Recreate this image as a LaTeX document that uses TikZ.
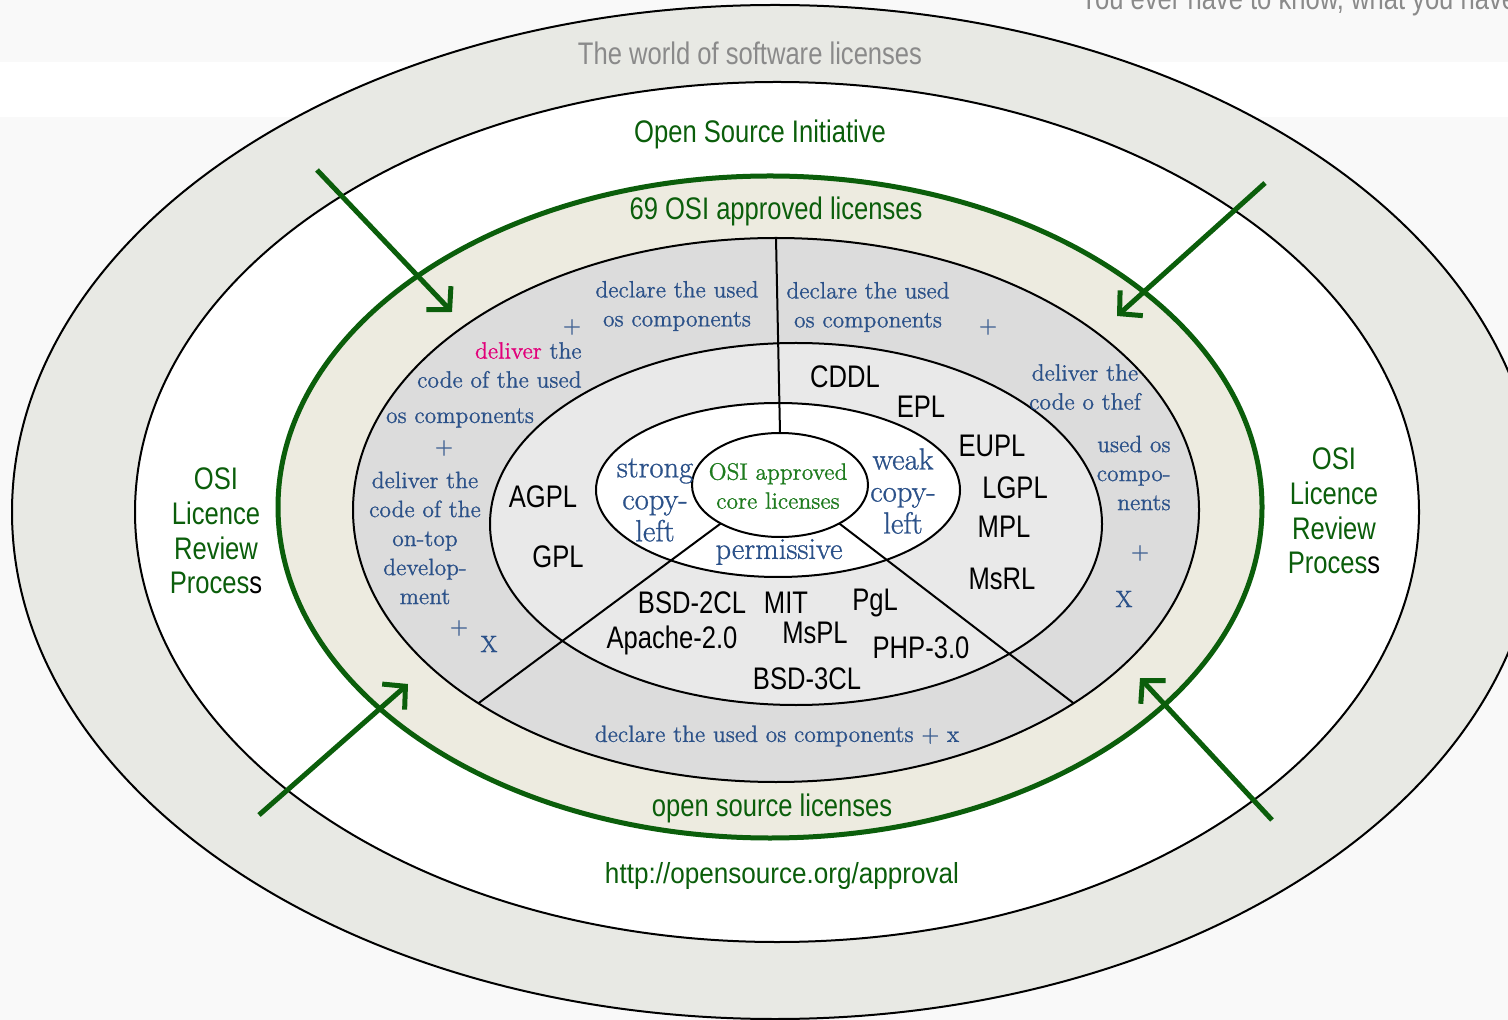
\documentclass[tikz,border=0pt]{standalone}
\usepackage{fontspec}
\usepackage{xcolor}
\usepackage{tikz}
\usetikzlibrary{shapes,shapes.geometric}
\usetikzlibrary{calc,arrows.meta,positioning}
\newfontfamily\condsans[FakeStretch=0.82]{Liberation Sans}
\newfontfamily\urlsans[FakeStretch=0.9]{Liberation Sans}
\newfontfamily\heavyserif[FakeBold=0.9]{Latin Modern Roman}
\definecolor{osigreen}{HTML}{0B5E0B}
\definecolor{coregreen}{HTML}{1E7B1E}
\definecolor{txtblue}{HTML}{2B5189}
\definecolor{tmagenta}{HTML}{E2007A}
\definecolor{worldband}{HTML}{E8E9E4}
\definecolor{pagebg}{HTML}{F9F9F9}
\definecolor{beige}{HTML}{EDEBE0}
\definecolor{ringgrey}{HTML}{DCDCDC}
\definecolor{litegrey}{HTML}{E9E9E9}
\definecolor{hdrgrey}{HTML}{8A8A8A}
\tikzset{
  ring/.style={ellipse, draw=black, line width=1pt, inner sep=0pt, outer sep=0pt},
  head/.style={font={\condsans\fontsize{15.6}{17.3}\selectfont}, text=osigreen, inner sep=0pt, align=center},
  lic/.style={font={\condsans\fontsize{15.6}{17}\selectfont}, text=black, inner sep=0pt},
  bltxt/.style={font={\heavyserif\fontsize{11.8}{14.5}\selectfont}, text=txtblue, inner sep=0pt, align=center},
  cat/.style={font={\heavyserif\fontsize{15.3}{16}\selectfont}, text=txtblue, inner sep=0pt, align=center},
  pointer/.style={draw=osigreen, line width=2.5pt, -{Straight Barb[length=8pt,width=17pt]}}
}
\begin{document}
\begin{tikzpicture}[x=0.5pt, y=-0.5pt]
  \useasboundingbox (0,0) rectangle (1508,1020);
  \clip (0,0) rectangle (1508,1020);
  \fill[pagebg] (0,0) rectangle (1508,1020);
  \fill[white] (0,62) rectangle (1508,117);
  \node[head, text=hdrgrey, anchor=base west] (hdr) at (1080,10) {You ever have to know, what you have to};

  \node[ring, fill=worldband, minimum width=763pt, minimum height=507pt] (world) at (775,512) {};
  \node[ring, fill=white, minimum width=642pt, minimum height=430pt] (osi) at (777,512) {};
  \node[ellipse, draw=osigreen, line width=2.5pt, fill=beige, inner sep=0pt, outer sep=0pt,
        minimum width=492pt, minimum height=331pt] (oss) at (770,507) {};
  \node[ring, fill=ringgrey, minimum width=423pt, minimum height=272pt] (duty) at (776,510) {};
  \node[ring, fill=litegrey, minimum width=306pt, minimum height=181pt] (lics) at (796,524) {};
  \node[ring, fill=white, minimum width=182pt, minimum height=87pt] (kinds) at (778,490) {};
  \node[ring, fill=white, minimum width=88pt, minimum height=52pt] (core) at (780,485) {};
  \draw[line width=1pt] (core.north) -- (duty.north);
  \draw[line width=1pt] (core.213) -- (duty.213);
  \draw[line width=1pt] (core.-33) -- (duty.-33);

  \node[head, text=hdrgrey] (worldtxt) at (750,53) {The world of software licenses};
  \node[head] (ositxt) at (760,134) {Open Source Initiative};
  \node[head] (apprtxt) at (776,211) {69 OSI approved licenses};
  \node[head] (osltxt) at (772,808) {open source licenses};
  \node[head, font={\urlsans\fontsize{14.5}{16}\selectfont}] (url) at (782,876) {http://opensource.org/approval};
  \node[head] (reviewL) at (216,531) {OSI\\Licence\\Review\\Proces\textcolor{black}{s}};
  \node[head] (reviewR) at (1334,511) {OSI\\Licence\\Review\\Proces\textcolor{black}{s}};

  \node[bltxt] (declL) at (677,306) {declare the used\\os components};
  \node[bltxt] (declR) at (868,307) {declare the used\\os components};
  \node[bltxt] (plusA) at (572,327) {+};
  \node[bltxt] (plusB) at (988,327) {+};
  \node[bltxt, align=right, anchor=east] (deliverL) at (582,365) {\textcolor{tmagenta}{deliver} the\\code of the used};
  \node[bltxt] (osL) at (460,418) {os components};
  \node[bltxt] (plusC) at (444,448) {+};
  \node[bltxt] (ontop) at (425,538) {deliver the\\code of the\\on-top\\develop-\\ment};
  \node[bltxt] (plusD) at (459,628) {+};
  \node[bltxt] (xL) at (489,644) {X};
  \node[bltxt] (deliverR) at (1085,387) {deliver the\\code o thef};
  \node[bltxt, align=right, anchor=east] (usedR) at (1171,473) {used os\\compo-\\nents};
  \node[bltxt] (plusE) at (1140,553) {+};
  \node[bltxt] (xR) at (1124,599) {X};
  \node[bltxt] (declB) at (777,736) {declare the used os components + x};

  \node[cat] (strong) at (655,500) {strong\\copy-\\left};
  \node[cat] (weak) at (903,491) {weak\\copy-\\left};
  \node[cat] (perm) at (779,552) {permissive};
  \node[bltxt, text=coregreen] (coretxt) at (778,486) {OSI approved\\core licenses};

  \node[lic] (cddl) at (845,377) {CDDL};
  \node[lic] (epl) at (921,407) {EPL};
  \node[lic] (eupl) at (992,446) {EUPL};
  \node[lic] (lgpl) at (1015,488) {LGPL};
  \node[lic] (mpl) at (1004,527) {MPL};
  \node[lic] (msrl) at (1002,579) {MsRL};
  \node[lic] (agpl) at (543,497) {AGPL};
  \node[lic] (gpl) at (558,557) {GPL};
  \node[lic] (bsdtwo) at (692,603) {BSD-2CL};
  \node[lic] (mit) at (786,603) {MIT};
  \node[lic] (pgl) at (875,603) {PgL};
  \node[lic] (apache) at (672,640) {Apache-2.0};
  \node[lic] (mspl) at (815,633) {MsPL};
  \node[lic] (php) at (921,648) {PHP-3.0};
  \node[lic] (bsdthree) at (807,679) {BSD-3CL};

  \coordinate (nwS) at (317,170); \coordinate (nwE) at (452,312);
  \coordinate (neS) at (1265,183); \coordinate (neE) at (1117,316);
  \coordinate (swS) at (259,815); \coordinate (swE) at (408,684);
  \coordinate (seS) at (1272,820); \coordinate (seE) at (1140,678);
  \draw[pointer] (nwS) -- (nwE);
  \draw[pointer] (neS) -- (neE);
  \draw[pointer] (swS) -- (swE);
  \draw[pointer] (seS) -- (seE);
\end{tikzpicture}
\end{document}
